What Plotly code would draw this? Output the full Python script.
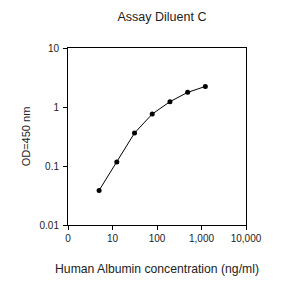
import plotly.graph_objects as go

conc = [5, 12.5, 31.25, 78.1, 195.3, 488.3, 1220.7]
od = [0.0386, 0.117, 0.362, 0.76, 1.23, 1.77, 2.23]
x_tickvals = [1, 10, 100, 1000, 10000]
x_ticktext = ["0", "10", "100", "1,000", "10,000"]
y_tickvals = [0.01, 0.1, 1, 10]
y_ticktext = ["0.01", "0.1", "1", "10"]

font = "Liberation Sans, Arial, sans-serif"

fig = go.Figure(go.Scatter(
    x=conc, y=od, mode="lines+markers",
    line=dict(color="black", width=1),
    marker=dict(color="black", size=5),
))

axis_common = dict(
    showline=True, linecolor="black", linewidth=1, mirror=True,
    showgrid=False, zeroline=False, ticks="outside", ticklen=4,
    tickcolor="black", tickfont=dict(family=font, size=10, color="#222"),
)

fig.update_layout(
    width=283, height=286,
    margin=dict(l=68, r=37, t=48, b=61),
    paper_bgcolor="white", plot_bgcolor="white",
    showlegend=False,
    title=dict(text="Assay Diluent C", x=162/283, xanchor="center", y=1-17/286, yanchor="middle",
               font=dict(family=font, size=12.5, color="#222")),
    xaxis=dict(type="log", range=[0, 4], tickvals=x_tickvals, ticktext=x_ticktext,
               title=dict(text="Human Albumin concentration (ng/ml)", standoff=21,
                          font=dict(family=font, size=12.2, color="#222")),
               **axis_common),
    yaxis=dict(type="log", range=[-2, 1], tickvals=y_tickvals, ticktext=y_ticktext,
               ticklabelstandoff=2,
               title=dict(text="OD=450 nm", standoff=6,
                          font=dict(family=font, size=11, color="#222")),
               **axis_common),
)

fig.write_html("out.html")
